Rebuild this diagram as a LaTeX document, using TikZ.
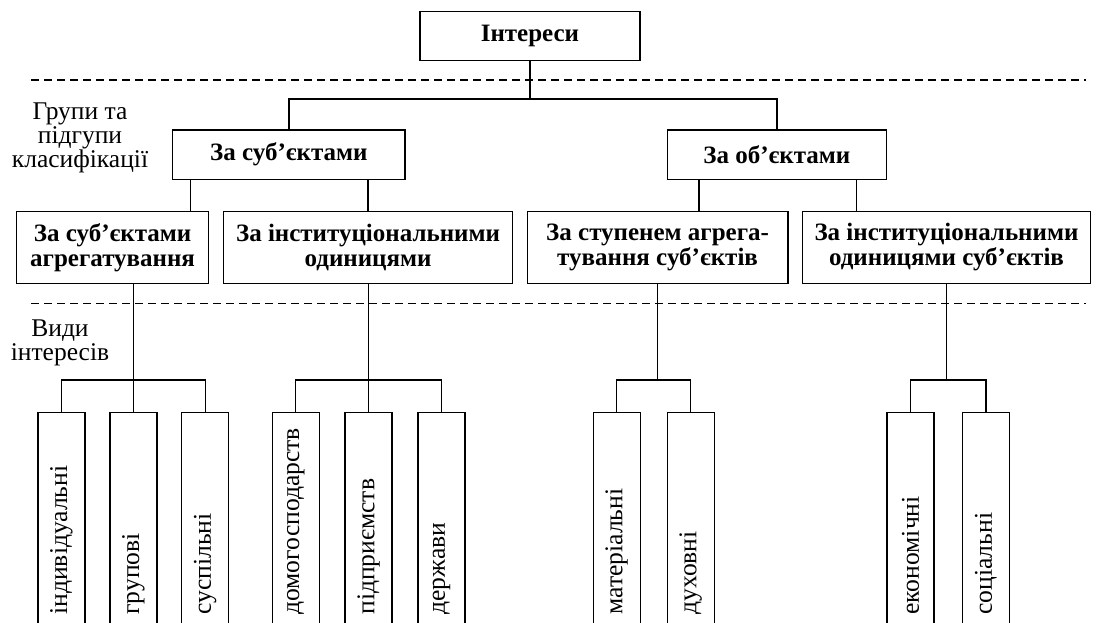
\documentclass[tikz,border=0pt]{standalone}
\usepackage{fontspec}
\setmainfont{Liberation Serif}
\usetikzlibrary{positioning}

\begin{document}
\begin{tikzpicture}[x=1pt, y=-1pt, line width=1.4pt, node distance=13.3pt]

	\tikzstyle{all} = [draw, line width=1.4pt, inner sep=0pt, align=center]
	\tikzstyle{head} = [rectangle, all, font=\fontsize{25}{25}\selectfont\bfseries]
	\tikzstyle{leaf} = [rectangle, all, minimum width=47pt, minimum height=211.4pt]
	\tikzstyle{leaftext} = [rotate=90, anchor=west, inner sep=0pt, font=\fontsize{25.6}{25.6}\selectfont]
	\tikzstyle{side} = [align=center, font=\fontsize{25.5}{24}\selectfont]
	\tikzstyle{sep} = [dash pattern=on 8pt off 5pt]

	\useasboundingbox (0,0) rectangle (1098,623);

	\node [head, minimum width=220pt, minimum height=49pt] (int) at (530,36.2) {Інтереси};

	% Групи
	\node [head, minimum width=232.5pt, minimum height=49.3pt] (subj) at (288.9,154.7) {За суб’єктами};
	\node [head, minimum width=219.2pt, minimum height=49.3pt] (obj) at (776.9,154.7) {За об’єктами};

	% Підгрупи
	\node [head, minimum width=192.2pt, minimum height=71.6pt] (agr) at (112.6,247.5) {За суб’єктами\\агрегатування};
	\node [head, minimum width=289.3pt, minimum height=71.6pt, right = of agr] (inst) {За інституціональними\\одиницями};
	\node [head, minimum width=260.4pt, minimum height=71.6pt, right = of inst] (stup) {За ступенем агрега-\\тування суб’єктів};
	\node [head, minimum width=288pt, minimum height=71.6pt, right = of stup] (odyn) {За інституціональними\\одиницями суб’єктів};

	% Види
	\node [leaf] (ind) at (61.4,517.9) {};
	\node [leaf, right = 23.5pt of ind] (grup) {};
	\node [leaf, right = 23.5pt of grup] (susp) {};
	\node [leaf] (dom) at (295.7,517.9) {};
	\node [leaf, right = 24.5pt of dom] (pidp) {};
	\node [leaf, right = 24.5pt of pidp] (derzh) {};
	\node [leaf] (mat) at (616.7,517.9) {};
	\node [leaf, right = 25.6pt of mat] (duh) {};
	\node [leaf] (ekon) at (910.5,517.9) {};
	\node [leaf, right = 27pt of ekon] (soc) {};

	\node [leaftext] (ind-t) at ([yshift=9pt]ind.south) {індивідуальні};
	\node [leaftext] (grup-t) at ([yshift=9pt]grup.south) {групові};
	\node [leaftext] (susp-t) at ([yshift=9pt]susp.south) {суспільні};
	\node [leaftext] (dom-t) at ([yshift=9pt]dom.south) {домогосподарств};
	\node [leaftext] (pidp-t) at ([yshift=9pt]pidp.south) {підприємств};
	\node [leaftext] (derzh-t) at ([yshift=9pt]derzh.south) {держави};
	\node [leaftext] (mat-t) at ([yshift=9pt]mat.south) {матеріальні};
	\node [leaftext] (duh-t) at ([yshift=9pt]duh.south) {духовні};
	\node [leaftext] (ekon-t) at ([yshift=9pt]ekon.south) {економічні};
	\node [leaftext] (soc-t) at ([yshift=9pt]soc.south) {соціальні};

	\node [side] (groups) at (80,137.5) {Групи та\\підгупи\\класифікації};
	\node [side] (kinds) at (60,343.3) {Види\\інтересів};

	\draw [sep] (31,80) -- (1086,80);
	\draw [sep] (31,303.3) -- (1086,303.3);

	\draw (int.south) -- ++(0,37.6) coordinate (top-bar);
	\draw (subj.north) |- (top-bar) -| (obj.north);

	\coordinate (s1) at ([xshift=18.6pt]subj.south west);
	\coordinate (o1) at ([xshift=32.2pt]obj.south west);
	\coordinate (o2) at ([xshift=-30.9pt]obj.south east);
	\draw (s1) -- (s1 |- agr.north);
	\draw (inst.north |- subj.south) -- (inst.north);
	\draw (o1) -- (o1 |- stup.north);
	\draw (o2) -- (o2 |- odyn.north);

	\draw (grup.north |- agr.south) -- (grup.north);
	\draw (ind.north) -- ++(0,-31.6) -| (susp.north);
	\draw (pidp.north |- inst.south) -- (pidp.north);
	\draw (dom.north) -- ++(0,-31.6) -| (derzh.north);
	\draw (stup.south) -- ++(0,97.4);
	\draw (mat.north) -- ++(0,-31.6) -| (duh.north);
	\draw (odyn.south) -- ++(0,97.4);
	\draw (ekon.north) -- ++(0,-31.6) -| (soc.north);

\end{tikzpicture}
\end{document}
